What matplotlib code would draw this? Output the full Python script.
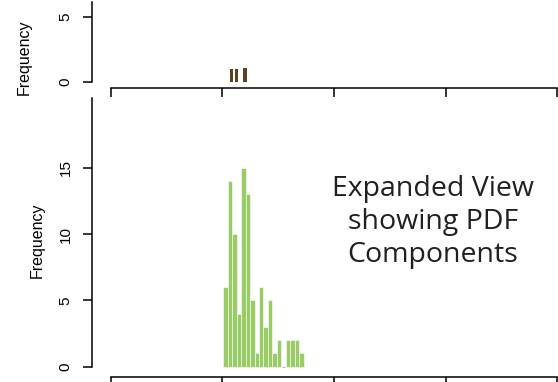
import matplotlib
matplotlib.use("Agg")
import matplotlib.pyplot as plt
import numpy as np

# full-range histogram (top strip) and expanded component histogram (bottom)
full_left = [26.7, 27.85, 29.55]
full_width = [0.6, 0.6, 1.05]
full_counts = [1, 1, 1.1]

comp_start = 25.2
comp_binw = 1.0
comp_counts = [6, 14, 10, 4, 15, 13, 5, 1, 6, 3, 5, 1, 2, 0, 2, 2, 2, 1]

x_ticks = [0, 25, 50, 75, 100]
top_yticks = [0, 5]
bot_yticks = [0, 5, 10, 15]

label_text = "Expanded View\nshowing PDF\nComponents"

W, H = 558, 382
plt.rcParams['font.family'] = ['Liberation Sans', 'DejaVu Sans']
fig = plt.figure(figsize=(W / 100, H / 100), dpi=100)


def px_axes(left, top, right, bottom):
    return fig.add_axes([left / W, 1 - bottom / H, (right - left) / W, (bottom - top) / H])


def style(ax, ytop, yticks):
    for s in ['top', 'right']:
        ax.spines[s].set_visible(False)
    ax.spines['left'].set_bounds(0, ytop)
    ax.spines['bottom'].set_bounds(0, 100)
    for s in ['left', 'bottom']:
        ax.spines[s].set_linewidth(1.1)
    ax.set_xticks(x_ticks)
    ax.set_xticklabels([])
    ax.set_yticks(yticks)
    ax.set_yticklabels([str(t) for t in yticks], rotation=90, va='center', fontsize=11)
    ax.tick_params(length=6.3, width=1.1, pad=7.5)
    ax.patch.set_visible(False)


# pixels per x unit from the tick spacing
xl = (91.7 - 110.7) / 4.466
xr = (558 - 110.7) / 4.466

ax1 = px_axes(91.7, 2, 558, 88.3)
ax1.bar(full_left, full_counts, width=full_width, align='edge', color='#5c4320', linewidth=0)
ax1.set_xlim(xl, xr)
ax1.set_ylim(-0.485, 6.15)
style(ax1, 6.15, top_yticks)

ax2 = px_axes(91.7, 98, 558, 376.7)
lefts = comp_start + comp_binw * np.arange(len(comp_counts))
ax2.bar(lefts, comp_counts, width=comp_binw, align='edge', color='#99cc66',
        edgecolor='white', linewidth=0.4)
for x, c in zip(lefts, comp_counts):
    if c == 0:
        ax2.hlines(0, x + 0.1, x + comp_binw - 0.1, color='#bbbbbb', linewidth=0.8)
ax2.set_xlim(xl, xr)
ax2.set_ylim(-0.754, 20.25)
style(ax2, 20.25, bot_yticks)

fig.text(24 / W, 1 - 57 / H, "Frequency", rotation=90, ha='center', va='center', fontsize=11.5)
fig.text(37.5 / W, 1 - 240 / H, "Frequency", rotation=90, ha='center', va='center', fontsize=11.5)

fig.text(433 / W, 1 - 222 / H, label_text, ha='center', va='center', fontsize=20.5,
         family='Open Sans', color='#231f20', linespacing=1.22)

fig.savefig("out.png", dpi=100)
